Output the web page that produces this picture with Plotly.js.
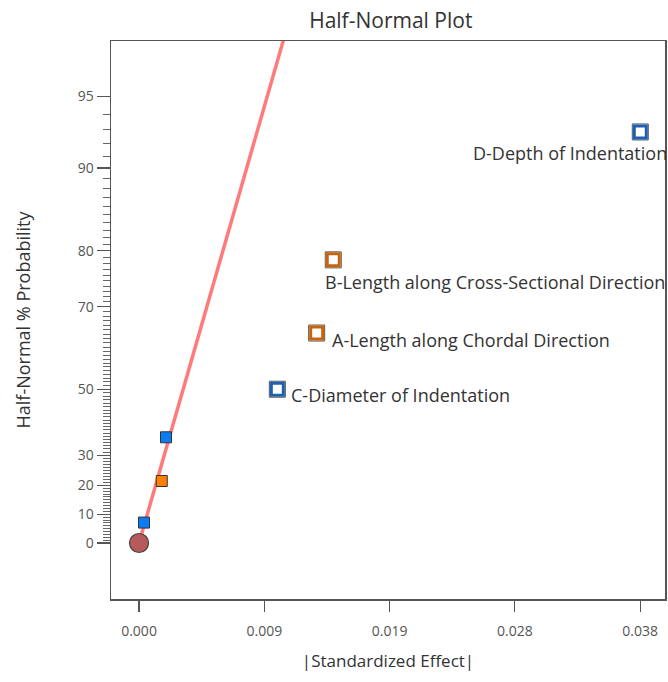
<!DOCTYPE html>
<html>
<head>
<meta charset="utf-8">
<script src="https://cdn.plot.ly/plotly-3.0.1.min.js"></script>
<style>html,body{margin:0;padding:0;background:#fff;}#chart{width:668px;height:682px;}</style>
</head>
<body>
<div id="chart"></div>
<script>
// ---- data ----
const effects = [0.000376, 0.00171, 0.00203, 0.01041, 0.01337, 0.01462, 0.03773];
const probs = [7.14, 21.43, 35.71, 50.0, 64.29, 78.57, 92.86];
const kinds = ["blue", "orange", "blue", "blue", "orange", "orange", "blue"];
const labels = ["", "", "", "C-Diameter of Indentation", "A-Length along Chordal Direction",
                "B-Length along Cross-Sectional Direction", "D-Depth of Indentation"];
const originEffect = [0];
const originProb = [0];
const lineEffect = [0, 0.0112];
const lineProb = [0, 97.7];
const xTickVals = [0, 0.00943, 0.01886, 0.02829, 0.03772];
const xTickText = ["0.000", "0.009", "0.019", "0.028", "0.038"];
const yMajor = [0, 10, 20, 30, 50, 70, 80, 90, 95];
const yMinor = [];
for (let p = 1; p <= 95; p++) yMinor.push(p);

// ---- half-normal probability scale ----
function invNorm(p) {
  const a = [-3.969683028665376e+01, 2.209460984245205e+02, -2.759285104469687e+02, 1.383577518672690e+02, -3.066479806614716e+01, 2.506628277459239e+00];
  const b = [-5.447609879822406e+01, 1.615858368580409e+02, -1.556989798598866e+02, 6.680131188771972e+01, -1.328068155288572e+01];
  const c = [-7.784894002430293e-03, -3.223964580411365e-01, -2.400758277161838e+00, -2.549732539343734e+00, 4.374664141464968e+00, 2.938163982698783e+00];
  const d = [7.784695709041462e-03, 3.224671290700398e-01, 2.445134137142996e+00, 3.754408661907416e+00];
  const pl = 0.02425, ph = 1 - pl;
  let q, r;
  if (p < pl) { q = Math.sqrt(-2 * Math.log(p)); return (((((c[0]*q+c[1])*q+c[2])*q+c[3])*q+c[4])*q+c[5]) / ((((d[0]*q+d[1])*q+d[2])*q+d[3])*q+1); }
  if (p <= ph) { q = p - 0.5; r = q*q; return (((((a[0]*r+a[1])*r+a[2])*r+a[3])*r+a[4])*r+a[5])*q / (((((b[0]*r+b[1])*r+b[2])*r+b[3])*r+b[4])*r+1); }
  q = Math.sqrt(-2 * Math.log(1 - p)); return -(((((c[0]*q+c[1])*q+c[2])*q+c[3])*q+c[4])*q+c[5]) / ((((d[0]*q+d[1])*q+d[2])*q+d[3])*q+1);
}
const hz = pct => invNorm(0.5 + pct / 200);

const fillColor = {blue: "#0a7cf5", orange: "#ff8000"};
const ringColor = {blue: "#1f5fb0", orange: "#c8640a"};

const traces = [];
traces.push({
  x: lineEffect, y: lineProb.map(hz), mode: "lines", type: "scatter",
  line: {color: "rgba(255,100,100,0.85)", width: 3.5}, hoverinfo: "skip", showlegend: false
});
const plainIdx = effects.map((e, i) => i).filter(i => !labels[i]);
traces.push({
  x: plainIdx.map(i => effects[i]), y: plainIdx.map(i => hz(probs[i])),
  mode: "markers", type: "scatter", showlegend: false,
  marker: {symbol: "square", size: 11, color: plainIdx.map(i => fillColor[kinds[i]]),
           line: {color: "#333", width: 1}}
});
const labIdx = effects.map((e, i) => i).filter(i => labels[i]);
// thin dark outline behind the ringed squares
traces.push({
  x: labIdx.map(i => effects[i]), y: labIdx.map(i => hz(probs[i])),
  mode: "markers", type: "scatter", showlegend: false,
  marker: {symbol: "square", size: 16, color: "rgba(0,0,0,0)", line: {color: "#555", width: 1}}
});
traces.push({
  x: labIdx.map(i => effects[i]), y: labIdx.map(i => hz(probs[i])),
  mode: "markers", type: "scatter", showlegend: false,
  marker: {symbol: "square", size: 12, color: "#fff",
           line: {color: labIdx.map(i => ringColor[kinds[i]]), width: 3}}
});
traces.push({
  x: originEffect, y: originProb.map(hz), mode: "markers", type: "scatter", showlegend: false,
  marker: {symbol: "circle", size: 19, color: "#b85a5a", line: {color: "#444", width: 1.2}}
});

const shifts = {3: [12, -6], 4: [13, -7], 5: [-10, -22], 6: [-169, -21]};
const annotations = labIdx.map(i => ({
  x: effects[i], y: hz(probs[i]), xref: "x", yref: "y", text: labels[i],
  showarrow: false, xanchor: "left", yanchor: "middle",
  xshift: shifts[i][0], yshift: shifts[i][1],
  font: {family: "Open Sans, sans-serif", size: 18, color: "#333"}
}));

const layout = {
  width: 668, height: 682,
  margin: {l: 111, r: 3, t: 41, b: 83, pad: 0},
  paper_bgcolor: "#fff", plot_bgcolor: "#fff",
  font: {family: "Open Sans, sans-serif", color: "#444"},
  title: {text: "Half-Normal Plot", x: 0.585, xanchor: "center", y: 0.97, yanchor: "middle",
          font: {size: 21, color: "#333"}},
  xaxis: {
    range: [-0.00211, 0.03959], tickmode: "array", tickvals: xTickVals, ticktext: xTickText,
    showgrid: false, zeroline: false, showline: true, mirror: true, linecolor: "#555", linewidth: 1.5,
    ticks: "outside", ticklen: 11, tickcolor: "#555", tickwidth: 1.2, ticklabelstandoff: 8,
    tickfont: {size: 14, color: "#555"},
    title: {text: "|Standardized Effect|", font: {size: 17, color: "#333"}, standoff: 16}
  },
  yaxis: {
    range: [-0.2456, 2.2018], tickmode: "array", tickvals: yMajor.map(hz), ticktext: yMajor.map(String),
    showgrid: false, zeroline: false, showline: true, mirror: true, linecolor: "#555", linewidth: 1.5,
    ticks: "outside", ticklen: 13, tickcolor: "#555", tickwidth: 1.2,
    tickfont: {size: 14, color: "#555"},
    minor: {tickmode: "array", tickvals: yMinor.filter(p => yMajor.indexOf(p) < 0).map(hz),
            ticks: "outside", ticklen: 7, tickcolor: "#666", tickwidth: 1, showgrid: false},
    title: {text: "Half-Normal % Probability", font: {size: 18, color: "#333"}, standoff: 42}
  },
  annotations: annotations,
  showlegend: false
};

Plotly.newPlot("chart", traces, layout, {displayModeBar: false, staticPlot: true});
</script>
</body>
</html>
